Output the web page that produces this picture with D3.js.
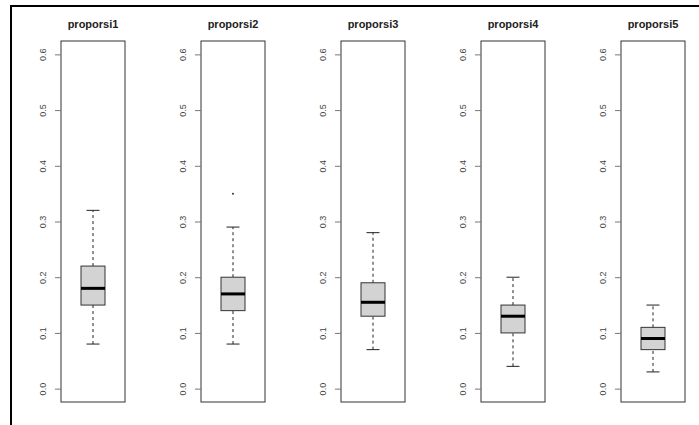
<!DOCTYPE html>
<html>
<head>
<meta charset="utf-8">
<script src="https://cdn.jsdelivr.net/npm/d3@7/dist/d3.min.js"></script>
<style>
  html, body { margin: 0; padding: 0; background: #fff; }
  svg { display: block; }
</style>
</head>
<body>
<svg id="chart" width="699" height="425"></svg>
<script>
// Five variables, one boxplot each
const variables = ["proporsi1", "proporsi2", "proporsi3", "proporsi4", "proporsi5"];
const lowerWhisker = [0.08, 0.08, 0.07, 0.04, 0.03];
const lowerQuartile = [0.15, 0.14, 0.13, 0.10, 0.07];
const medians = [0.18, 0.17, 0.155, 0.13, 0.09];
const upperQuartile = [0.22, 0.20, 0.19, 0.15, 0.11];
const upperWhisker = [0.32, 0.29, 0.28, 0.20, 0.15];
const outliers = [[], [0.35], [], [], []];
const yTicks = [0.0, 0.1, 0.2, 0.3, 0.4, 0.5, 0.6];

const svg = d3.select("#chart");

// outer frame
svg.append("rect")
  .attr("x", 11).attr("y", 6)
  .attr("width", 720).attr("height", 440)
  .attr("fill", "none").attr("stroke", "#000").attr("stroke-width", 2);

// one panel slot per variable
const panelW = 64, panelStep = 140;
const x = d3.scaleBand()
  .domain(variables)
  .range([61, 61 + panelStep * (variables.length - (1 - panelW / panelStep))])
  .paddingInner(1 - panelW / panelStep)
  .paddingOuter(0);

// shared value scale, padded 4% either side of [0, 0.6]
const y = d3.scaleLinear().domain([-0.024, 0.624]).range([402, 41]);

variables.forEach((name, i) => {
  const left = x(name);
  const w = x.bandwidth();
  const cx = left + w / 2;
  const g = svg.append("g");

  // panel frame
  g.append("rect")
    .attr("x", left).attr("y", y(0.624))
    .attr("width", w).attr("height", y(-0.024) - y(0.624))
    .attr("fill", "#fff").attr("stroke", "#333").attr("stroke-width", 1);

  // axis
  const axis = d3.axisLeft(y).tickValues(yTicks).tickSize(6).tickPadding(8)
    .tickFormat(d3.format(".1f"));
  const ax = g.append("g").attr("transform", `translate(${left},0)`).call(axis);
  ax.select(".domain").remove();
  ax.selectAll(".tick line").attr("stroke", "#777");
  ax.selectAll(".tick text")
    .attr("transform", "rotate(-90)")
    .attr("x", 0).attr("y", -18)
    .attr("dy", "0.35em")
    .attr("text-anchor", "middle")
    .attr("fill", "#444")
    .style("font-family", "Liberation Sans, Arial, sans-serif")
    .style("font-size", "9px");

  // title
  g.append("text")
    .attr("x", cx).attr("y", 28)
    .attr("text-anchor", "middle")
    .attr("fill", "#222")
    .style("font-family", "Liberation Sans, Arial, sans-serif")
    .style("font-weight", "bold")
    .style("font-size", "11px")
    .text(name);

  const boxW = 24, capW = 13;

  // whiskers
  [[lowerWhisker[i], lowerQuartile[i]], [upperQuartile[i], upperWhisker[i]]].forEach(([a, b]) => {
    g.append("line")
      .attr("x1", cx).attr("x2", cx)
      .attr("y1", y(a)).attr("y2", y(b))
      .attr("stroke", "#222").attr("stroke-width", 1)
      .attr("stroke-dasharray", "3,3");
  });
  [lowerWhisker[i], upperWhisker[i]].forEach(v => {
    g.append("line")
      .attr("x1", cx - capW / 2).attr("x2", cx + capW / 2)
      .attr("y1", y(v)).attr("y2", y(v))
      .attr("stroke", "#222").attr("stroke-width", 1);
  });

  // box
  g.append("rect")
    .attr("x", cx - boxW / 2).attr("y", y(upperQuartile[i]))
    .attr("width", boxW).attr("height", y(lowerQuartile[i]) - y(upperQuartile[i]))
    .attr("fill", "#d3d3d3").attr("stroke", "#333").attr("stroke-width", 1);

  // median
  g.append("line")
    .attr("x1", cx - boxW / 2).attr("x2", cx + boxW / 2)
    .attr("y1", y(medians[i])).attr("y2", y(medians[i]))
    .attr("stroke", "#000").attr("stroke-width", 3);

  // outliers
  outliers[i].forEach(v => {
    g.append("circle")
      .attr("cx", cx).attr("cy", y(v)).attr("r", 1)
      .attr("fill", "#333");
  });
});
</script>
</body>
</html>
